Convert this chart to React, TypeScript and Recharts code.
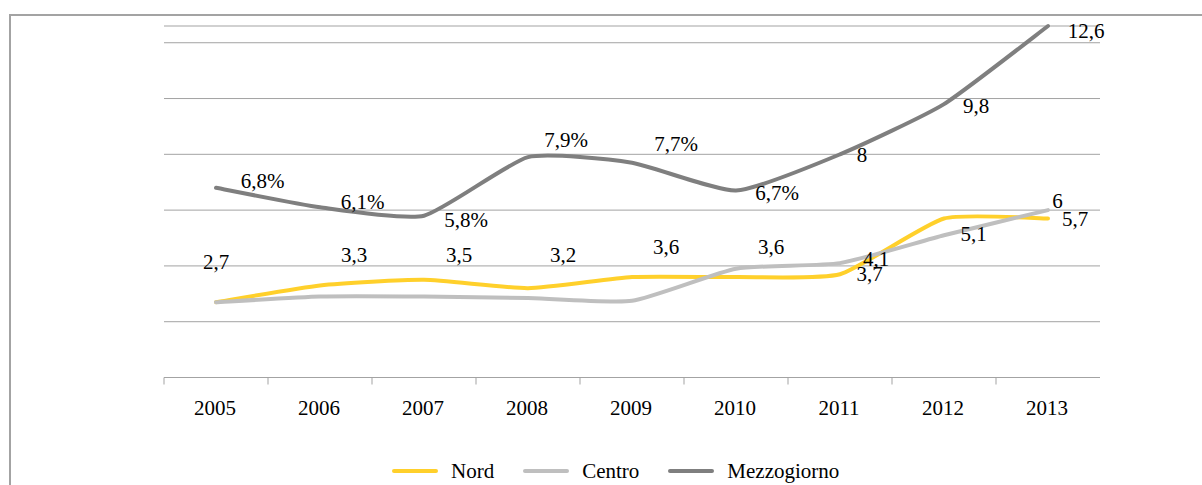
import React from 'react';
import { LineChart, Line, XAxis, YAxis, CartesianGrid, Legend, LabelList } from 'recharts';

const years = ['2005', '2006', '2007', '2008', '2009', '2010', '2011', '2012', '2013'];
const nord = [2.7, 3.3, 3.5, 3.2, 3.6, 3.6, 3.7, 5.7, 5.7];
const centro = [2.7, 2.9, 2.9, 2.85, 2.75, 3.9, 4.1, 5.1, 6];
const mezzogiorno = [6.8, 6.1, 5.8, 7.9, 7.7, 6.7, 8, 9.8, 12.6];
const yTicks = [0, 2, 4, 6, 8, 10, 12];
const seriesOrder = ['Nord', 'Centro', 'Mezzogiorno'];

const nordLabels = ['2,7', '3,3', '3,5', '3,2', '3,6', '3,6', '3,7', '', '5,7'];
const centroLabels = ['', '', '', '', '', '', '4,1', '5,1', '6'];
const mezzLabels = ['6,8%', '6,1%', '5,8%', '7,9%', '7,7%', '6,7%', '8', '9,8', '12,6'];

// label offsets (text centre relative to point), styling only
const nordOffsets = [[0, -40], [34, -30], [35, -24.4], [35, -33], [34, -29.6], [35, -29.6], [29.5, 0], [0, 0], [27, 0.5]];
const centroOffsets = [[0, 0], [0, 0], [0, 0], [0, 0], [0, 0], [0, 0], [36, -4], [29.5, -1.2], [9.5, -9.6]];
const mezzOffsets = [[46.5, -6.8], [42.5, -5.3], [42, 4.8], [38, -17], [44, -18.7], [41, 2], [22, 0.7], [32, 1.4], [38, 4.5]];

const data = years.map((y, i) => ({
  year: y,
  Nord: nord[i],
  Centro: centro[i],
  Mezzogiorno: mezzogiorno[i],
}));

const W = 1202;
const H = 485;
const margin = { top: 26, right: 102, bottom: 37.5, left: 164 };
const halfBand = (W - margin.left - margin.right) / years.length / 2;
const FONT = "'Liberation Serif', 'DejaVu Serif', serif";
const GRID = '#a3a3a3';

// lightly smoothed curve (cardinal-like, small tension)
function makeCurve(k: number) {
  return (context: any) => {
    let pts: number[][] = [];
    return {
      areaStart() {},
      areaEnd() {},
      lineStart() {
        pts = [];
      },
      lineEnd() {
        const n = pts.length;
        if (n === 0) return;
        context.moveTo(pts[0][0], pts[0][1]);
        for (let i = 0; i < n - 1; i++) {
          const p0 = pts[Math.max(i - 1, 0)];
          const p1 = pts[i];
          const p2 = pts[i + 1];
          const p3 = pts[Math.min(i + 2, n - 1)];
          context.bezierCurveTo(
            p1[0] + (p2[0] - p0[0]) * k,
            p1[1] + (p2[1] - p0[1]) * k,
            p2[0] - (p3[0] - p1[0]) * k,
            p2[1] - (p3[1] - p1[1]) * k,
            p2[0],
            p2[1]
          );
        }
      },
      point(x: number, y: number) {
        pts.push([+x, +y]);
      },
    };
  };
}
const smooth = makeCurve(0.09);

function YearTick(props: any) {
  const { x, y, payload } = props;
  return (
    <g>
      <line x1={x - halfBand} x2={x - halfBand} y1={y} y2={y + 7} stroke={GRID} strokeWidth={1} />
      <text x={x - 1} y={y + 37.5} textAnchor="middle" style={{ fontFamily: FONT }} fontSize={21} fill="#000">
        {payload.value}
      </text>
    </g>
  );
}

function makeLabel(texts: string[], offsets: number[][]) {
  return (p: any) => {
    const i = p.index;
    const t = texts[i];
    if (!t) return null;
    const [dx, dy] = offsets[i];
    return (
      <text
        key={`l-${i}`}
        x={p.x + dx}
        y={p.y + dy + 7}
        textAnchor="middle"
        style={{ fontFamily: FONT }}
        fontSize={21}
        fill="#000"
      >
        {t}
      </text>
    );
  };
}

function LegendContent(props: any) {
  const payload = [...(props.payload || [])].sort(
    (a: any, b: any) => seriesOrder.indexOf(a.value) - seriesOrder.indexOf(b.value)
  );
  return (
    <div
      style={{
        display: 'flex',
        alignItems: 'center',
        paddingLeft: 392,
        height: 30,
        fontFamily: FONT,
        fontSize: 21,
        color: '#000',
      }}
    >
      {payload.map((e: any, i: number) => (
        <div key={i} style={{ display: 'flex', alignItems: 'center', marginRight: 29 }}>
          <div style={{ width: 46, height: 4, background: e.color, borderRadius: 2, marginRight: 13 }} />
          <span style={{ lineHeight: '24px' }}>{e.value}</span>
        </div>
      ))}
    </div>
  );
}

export default function App() {
  return (
    <div style={{ position: 'absolute', left: 0, top: 0, width: W, height: H, overflow: 'hidden', background: '#fff', fontFamily: FONT }}>
      <div
        style={{
          position: 'absolute',
          left: 9,
          top: 14,
          width: 1400,
          height: 700,
          borderTop: `2px solid ${GRID}`,
          borderLeft: `2px solid ${GRID}`,
        }}
      />
      <div style={{ position: 'absolute', left: 0, top: 0 }}>
        <LineChart width={W} height={H} data={data} margin={margin}>
          <CartesianGrid vertical={false} stroke={GRID} strokeWidth={1} />
          <XAxis
            dataKey="year"
            padding={{ left: halfBand, right: halfBand }}
            axisLine={{ stroke: GRID, strokeWidth: 1 }}
            tickLine={false}
            tickSize={0}
            tickMargin={0}
            height={40}
            interval={0}
            tick={<YearTick />}
          />
          <YAxis hide domain={[0, 12.6]} ticks={yTicks} />
          <Legend
            verticalAlign="bottom"
            content={<LegendContent />}
            wrapperStyle={{ top: 456, left: 0, width: W, height: 30 }}
          />
          <Line
            type={smooth as any}
            dataKey="Nord"
            name="Nord"
            stroke="#FFD02B"
            strokeWidth={4}
            strokeLinecap="round"
            strokeLinejoin="round"
            dot={false}
            activeDot={false}
            isAnimationActive={false}
          >
            <LabelList dataKey="Nord" content={makeLabel(nordLabels, nordOffsets)} />
          </Line>
          <Line
            type={smooth as any}
            dataKey="Centro"
            name="Centro"
            stroke="#BFBFBF"
            strokeWidth={4}
            strokeLinecap="round"
            strokeLinejoin="round"
            dot={false}
            activeDot={false}
            isAnimationActive={false}
          >
            <LabelList dataKey="Centro" content={makeLabel(centroLabels, centroOffsets)} />
          </Line>
          <Line
            type={smooth as any}
            dataKey="Mezzogiorno"
            name="Mezzogiorno"
            stroke="#7F7F7F"
            strokeWidth={4}
            strokeLinecap="round"
            strokeLinejoin="round"
            dot={false}
            activeDot={false}
            isAnimationActive={false}
          >
            <LabelList dataKey="Mezzogiorno" content={makeLabel(mezzLabels, mezzOffsets)} />
          </Line>
        </LineChart>
      </div>
    </div>
  );
}
